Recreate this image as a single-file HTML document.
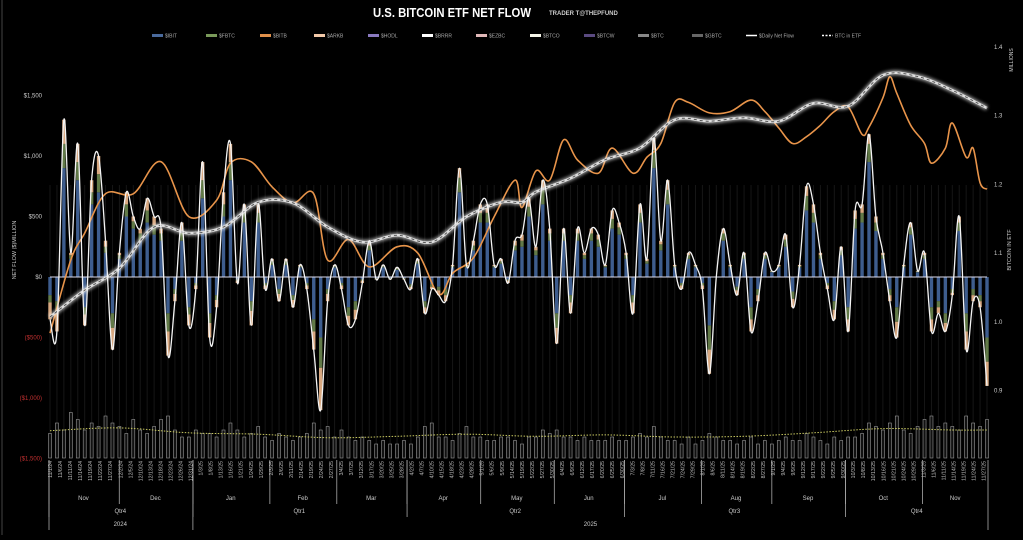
<!DOCTYPE html>
<html><head><meta charset="utf-8"><style>
html,body{margin:0;padding:0;background:#000;}
body{width:1023px;height:535px;overflow:hidden;font-family:"Liberation Sans",sans-serif;}
svg text{font-family:"Liberation Sans",sans-serif;}
</style></head><body>
<svg id="chart" width="1023" height="535" viewBox="0 0 1023 535" xmlns="http://www.w3.org/2000/svg">
<defs><filter id="glow" x="-5%" y="-50%" width="110%" height="200%"><feGaussianBlur stdDeviation="1.6"/></filter></defs>
<rect width="1023" height="535" fill="#000"/>
<line x1="2" y1="0" x2="2" y2="535" stroke="#444" stroke-width="1"/>
<text x="452" y="17" text-anchor="middle" fill="#fff" font-size="12.5" font-weight="bold" textLength="158" lengthAdjust="spacingAndGlyphs">U.S. BITCOIN ETF NET FLOW</text>
<text x="549" y="15" fill="#ccc" font-size="6" font-weight="bold">TRADER T@THEPFUND</text>
<g id="legend"></g>
<g id="grid"></g><g id="vol"></g><g id="bars"></g><g id="lines"></g><g id="axes"></g>
</svg>
<script>
const net=[-350,-450,1300,200,1100,-400,800,1000,300,-600,
200,700,500,400,650,500,400,-650,-200,450,
-400,-100,950,-500,-250,700,1100,-50,600,-400,
600,-100,150,-200,150,-250,100,-100,-600,-1100,
-200,100,-100,-400,-350,-50,300,-20,100,-20,
80,-20,-100,150,-300,-100,-150,-200,100,900,
100,300,600,600,100,150,-50,300,350,650,
250,800,400,-550,400,-300,400,200,400,350,
100,550,450,200,-300,600,150,1150,300,800,
100,-100,200,100,-100,-800,0,400,100,-150,
200,-450,-200,200,50,100,350,-250,100,750,
600,200,-100,-350,250,-450,550,600,1180,500,
200,-200,-500,100,450,50,200,-450,-300,-450,
-150,500,-600,-200,-250,-900];
const ibit=[-150,-200,900,150,800,-250,600,700,200,-300,
150,500,400,300,450,350,300,-300,-100,300,
-250,-50,650,-300,-150,500,800,-20,450,-200,
450,-50,100,-100,100,-150,80,-50,-350,-500,
-100,80,-50,-250,-200,-20,220,-10,80,-10,
60,-10,-60,110,-200,-60,-80,-100,80,700,
80,220,450,450,80,110,-20,220,250,500,
180,600,300,-300,300,-150,300,150,300,250,
80,400,350,150,-150,450,110,900,220,600,
80,-50,150,80,-50,-400,0,300,80,-80,
150,-250,-100,150,40,80,250,-120,80,550,
450,150,-50,-200,180,-250,400,450,950,380,
150,-100,-250,80,350,40,150,-250,-200,-300,
-100,380,-300,-100,-150,-500];
const fbtc=[-60,-80,200,30,150,-60,100,150,50,-120,
30,100,60,60,100,80,60,-150,-40,80,
-60,-20,150,-80,-40,100,150,-10,80,-80,
80,-20,30,-40,30,-40,10,-20,-100,-250,
-40,10,-20,-70,-70,-10,40,-5,10,-5,
10,-5,-20,20,-50,-20,-30,-50,10,120,
10,40,80,80,10,20,-10,40,50,80,
40,120,60,-120,60,-60,60,30,60,60,
10,80,60,30,-60,80,20,150,50,120,
10,-20,30,10,-20,-200,0,60,10,-30,
30,-100,-50,30,5,10,60,-60,10,120,
80,30,-20,-70,40,-100,80,80,150,70,
30,-50,-120,10,60,5,30,-100,-50,-80,
-30,70,-150,-50,-50,-200];
const vol=[3.5,5,4,6.5,5.5,4,5,4.5,6,5,
4.5,3.5,5.5,4,3.5,4.5,5.5,6,4,3,
3,4,3.5,3.5,3,4,5,4,3,3.5,
4.5,3,2.5,3.5,3,2.5,3,3.5,5,4,
4.5,3,4,3,2.5,3,2.5,2,2.5,2,
2,2.5,2,3,4.5,5,3,3,2.5,3.5,
4.5,3,3,2.5,2.5,3,3,2.5,2,3,
3,4,3.5,4,3,3,2.5,3,2.5,2.5,
2.5,3,2.5,2.5,3,3.5,3,4.5,3,2.5,
2.5,2,3,2,2.5,3.5,3,2.5,2.5,2,
2.5,3,2,2.5,2,2.5,3,2.5,2.5,3.5,
3,2.5,2,3,2.5,3,3,3.5,5,4.5,
4,5,6,4,3.5,4.5,5.5,6,4.5,5,
4.5,4,6,5,4.5,5.5];
const volAvgIdx=[0,10,20,30,40,50,60,70,80,90,100,110,120,130,135];
const volAvg=[3.9,4.3,3.6,3.4,2.9,3.1,3.4,3.1,3.3,3.0,3.1,3.6,4.2,4.0,4.0];
const etfIdx=[0,5,10,15,20,25,30,35,40,45,50,55,60,65,68,70,75,80,85,90,95,100,105,110,115,120,125,130,135];
const etfHold=[1.007,1.046,1.078,1.138,1.129,1.138,1.174,1.173,1.138,1.116,1.126,1.116,1.153,1.174,1.174,1.189,1.209,1.236,1.253,1.294,1.292,1.297,1.292,1.318,1.314,1.359,1.357,1.337,1.311];
const priceIdx=[0,3,5,8,12,16,20,24,26,29,32,35,38,40,43,46,50,53,56,58,61,64,67,68,70,72,74,76,79,81,84,86,88,90,92,95,98,101,103,105,107,109,111,113,115,117,118,120,121,122,124,126,127,129,130,132,133,134,135];
const price=[69.5,85.5,91.4,100,100,107,95,98.6,106.7,107,101.5,98,100,85.5,90,84,88.4,87,78,82.6,86,95,103,97,105,103,111.8,107.4,104.5,110,104.5,108,111,120,120,117.7,118,120.5,118,114.4,111,112.5,115,118,119,113,114.6,121,125.6,122,115,111,106.7,110,115.5,108,110,102.4,101];
const leftTicks=[1500,1000,500,0,-500,-1000,-1500];
const leftTickLabels=["$1,500","$1,000","$500","$0","($500)","($1,000)","($1,500)"];
const rightTicks=[1.4,1.3,1.2,1.1,1.0,0.9];
const legendNames=["$IBIT","$FBTC","$BITB","$ARKB","$HODL","$BRRR","$EZBC","$BTCO","$BTCW","$BTC","$GBTC","$Daily Net Flow","BTC in ETF"];
const legendColors=["#4a6a9c","#7a9a5a","#e0904a","#f2c8a8","#8a7ac0","#ffffff","#e0b8b8","#f4f4e8","#5a4a80","#888","#666","#fff","#fff"];
const monthNames=["Jan","Feb","Mar","Apr","May","Jun","Jul","Aug","Sep","Oct","Nov","Dec"];

const NS="http://www.w3.org/2000/svg";
function mk(tag,attrs,parent){const e=document.createElementNS(NS,tag);for(const k in attrs)e.setAttribute(k,attrs[k]);parent.appendChild(e);return e;}
const X0=50,X1=987,N=net.length;
const xs=i=>X0+(X1-X0)*i/(N-1);
const yL=v=>277-v*60.5/500;
const yR=v=>47+(1.4-v)*687;
const yP=p=>340-(p-68)*265/58;
const yV=v=>458-v*7;
function smooth(pts){let d="M"+pts[0][0]+","+pts[0][1];for(let i=0;i<pts.length-1;i++){const p0=pts[i-1]||pts[i],p1=pts[i],p2=pts[i+1],p3=pts[i+2]||p2;const c1=[p1[0]+(p2[0]-p0[0])/6,p1[1]+(p2[1]-p0[1])/6],c2=[p2[0]-(p3[0]-p1[0])/6,p2[1]-(p3[1]-p1[1])/6];d+=" C"+c1[0].toFixed(1)+","+c1[1].toFixed(1)+" "+c2[0].toFixed(1)+","+c2[1].toFixed(1)+" "+p2[0].toFixed(1)+","+p2[1].toFixed(1);}return d;}

const lg=document.getElementById('legend');
let lx=152;
legendNames.forEach((n,i)=>{
  const g=mk('g',{},lg);
  
  
  if(i<11) mk('rect',{x:lx,y:34,width:11,height:3,fill:legendColors[i]},g);
  else mk('line',{x1:lx,y1:35.5,x2:lx+11,y2:35.5,stroke:'#fff','stroke-width':1.5,'stroke-dasharray':i==12?'2,1.5':'none'},g);
  const t=mk('text',{x:lx+13,y:37.5,fill:'#aaa','font-size':5},g);t.textContent=n;
  lx+= i==11?76:(i<11?54:60);
});

const grid=document.getElementById('grid');
for(let i=0;i<N;i++){
  const l=mk('line',{x1:xs(i),y1:185,x2:xs(i),y2:458,stroke:'#161616','stroke-width':1},grid);
  
  
}
const vg=document.getElementById('vol');
vol.forEach((v,i)=>{
  const r=mk('rect',{x:xs(i)-1.5,y:yV(v),width:3,height:458-yV(v),fill:'#111',stroke:'#999','stroke-width':0.6},vg);
  
  
});
const va=mk('path',{d:smooth(volAvgIdx.map((k,j)=>[xs(k),yV(volAvg[j])])),fill:'none',stroke:'#c8c860','stroke-width':1,'stroke-dasharray':'1.5,1.5'},vg);



const bg=document.getElementById('bars');
for(let i=0;i<N;i++){
  const segs=[[ibit[i],'#3e5d8e'],[fbtc[i],'#627a48'],[net[i]-ibit[i]-fbtc[i],'#d8a880']];
  let base=0;
  segs.forEach(([v,c])=>{
    const y1=yL(base),y2=yL(base+v);
    const r=mk('rect',{x:xs(i)-1.7,y:Math.min(y1,y2),width:3.4,height:Math.abs(y2-y1),fill:c},bg);
    
    
    base+=v;
  });
}
const lgp=document.getElementById('lines');
const zl=mk('line',{x1:X0,y1:yL(0),x2:X1,y2:yL(0),stroke:'#dde',"stroke-width":1},lgp);


const pr=mk('path',{d:smooth(priceIdx.map((k,j)=>[xs(k),yP(price[j])])),fill:'none',stroke:'#e8944a','stroke-width':1.6},lgp);


const etfD=smooth(etfIdx.map((k,j)=>[xs(k),yR(etfHold[j])]));
const eg=mk('path',{d:etfD,fill:'none',stroke:'#fff','stroke-width':5,opacity:0.6,filter:'url(#glow)'},lgp);


const e1=mk('path',{d:etfD,fill:'none',stroke:'#ddd','stroke-width':2.6},lgp);


const e2=mk('path',{d:etfD,fill:'none',stroke:'#555','stroke-width':1,'stroke-dasharray':'3,3'},lgp);


const nl=mk('path',{d:smooth(net.map((v,i)=>[xs(i),yL(v)])),fill:'none',stroke:'#f4f4f4','stroke-width':1.3},lgp);



const ax=document.getElementById('axes');
leftTicks.forEach((v,i)=>{
  const t=mk('text',{x:42,y:yL(v)+2,'text-anchor':'end',fill:v<0?'#c03030':'#ccc','font-size':6},ax);
  
  
  t.textContent=leftTickLabels[i];
});
rightTicks.forEach(v=>{
  const t=mk('text',{x:994,y:yR(v)+2,fill:'#ccc','font-size':6},ax);
  
  
  t.textContent=v.toFixed(1);
});
const lt=mk('text',{x:0,y:0,transform:'translate(16,250) rotate(-90)','text-anchor':'middle',fill:'#ccc','font-size':5.5},ax);
lt.textContent='NET FLOW ($)MILLION';
const rt=mk('text',{x:0,y:0,transform:'translate(1011,250) rotate(-90)','text-anchor':'middle',fill:'#ccc','font-size':5.5},ax);
rt.textContent='BITCOIN IN ETF';
const rm=mk('text',{x:0,y:0,transform:'translate(1013,60) rotate(-90)','text-anchor':'middle',fill:'#ccc','font-size':5},ax);
rm.textContent='MILLIONS';

const days=[];
for(let d=new Date(2024,10,1);d<=new Date(2025,10,28);d.setDate(d.getDate()+1)){const w=d.getDay();if(w>0&&w<6)days.push(new Date(d));}
const D=days.length;
const xd=k=>X0+(X1-X0)*k/(D-1);
for(let k=0;k<D;k+=3){
  const d=days[k];
  const t=mk('text',{x:0,y:0,transform:`translate(${xd(k)+2},461) rotate(-90)`,'text-anchor':'end',fill:'#bbb','font-size':5.2},ax);
  
  
  t.textContent=(d.getMonth()+1)+'/'+d.getDate()+'/'+String(d.getFullYear()).slice(2);
}
function groups(keyFn){const g=[];days.forEach((d,k)=>{const key=keyFn(d);if(!g.length||g[g.length-1].key!==key)g.push({key,s:k,e:k,d});else g[g.length-1].e=k;});return g;}
const sep=(x,y1,y2)=>{const l=mk('line',{x1:x,y1:y1,x2:x,y2:y2,stroke:'#aaa','stroke-width':0.8},ax);};
groups(d=>d.getFullYear()*12+d.getMonth()).forEach(g=>{
  sep(xd(g.s)-1,460,504);
  const t=mk('text',{x:(xd(g.s)+xd(g.e))/2,y:500,'text-anchor':'middle',fill:'#ccc','font-size':6},ax);
  
  t.textContent=monthNames[g.d.getMonth()];
});
groups(d=>d.getFullYear()*4+Math.floor(d.getMonth()/3)).forEach(g=>{
  sep(xd(g.s)-1,460,517);
  const t=mk('text',{x:(xd(g.s)+xd(g.e))/2,y:513,'text-anchor':'middle',fill:'#ccc','font-size':6},ax);
  
  t.textContent='Qtr'+(Math.floor(g.d.getMonth()/3)+1);
});
groups(d=>d.getFullYear()).forEach(g=>{
  sep(xd(g.s)-1,460,530);
  const t=mk('text',{x:(xd(g.s)+xd(g.e))/2,y:526,'text-anchor':'middle',fill:'#ccc','font-size':6},ax);
  
  t.textContent=g.d.getFullYear();
});
sep(X1+1,460,530);
</script>
</body></html>
